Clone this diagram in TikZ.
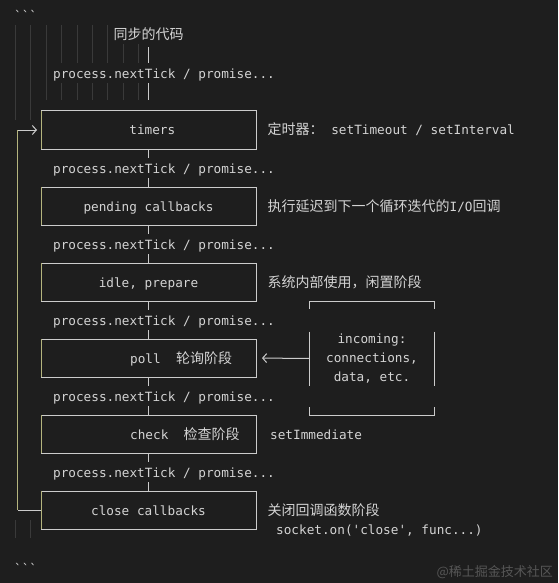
\documentclass[tikz,border=0pt]{standalone}
\usepackage{fontspec}
\setmonofont{DejaVu Sans Mono}
\newfontfamily\cjk{Noto Sans CJK SC}
\usetikzlibrary{positioning,arrows.meta}
\definecolor{bg}{HTML}{1E1E1E}
\definecolor{fg}{HTML}{D4D4D4}
\definecolor{lineclr}{HTML}{CCCCCC}
\definecolor{railclr}{HTML}{B4B47E}
\definecolor{guideclr}{HTML}{3A3A3A}
\definecolor{markclr}{HTML}{565656}
\newcommand{\zhtxt}[1]{{\fontsize{14}{19}\cjk #1}}

\begin{document}
\begin{tikzpicture}[
    x=1pt, y=-1pt,
    font=\ttfamily\fontsize{12.7}{19}\selectfont,
    txt/.style={inner sep=0pt, text height=12pt, text depth=2pt, text=fg},
    phase/.style={txt, draw=lineclr, line width=1pt, outer sep=0pt, minimum width=215pt, minimum height=38pt},
    ticknote/.style={txt, fill=bg, minimum height=20pt, xshift=15.5pt},
    note/.style={txt, anchor=west},
    conn/.style={draw=lineclr, line width=1pt},
    rail/.style={draw=railclr, line width=1pt},
    guide/.style={draw=guideclr, line width=0.8pt},
    barb/.style={-{Straight Barb[length=4pt, width=9pt]}}
]
\fill[bg] (0,0) rectangle (558,583);

% indent guides
\foreach \gx in {15,30} \draw[guide] (\gx,25) -- (\gx,120);
\foreach \gx in {46,61,77,92,107,123,138} \draw[guide] (\gx,25) -- (\gx,100);
\foreach \gx in {15,30} \draw[guide] (\gx,520) -- (\gx,538);

\node[note] (fence1) at (14,16) {```};
\node[note] (fence2) at (14,568) {```};

\node[txt, fill=bg, minimum height=19pt] (sync) at (148.5,35) {\zhtxt{同步的代码}};

\node[phase] (timers) at (148.5,130) {\ timers};
\node[phase, below=38pt of timers]  (pending) {pending callbacks};
\node[phase, below=38pt of pending] (idle)    {idle, prepare};
\node[phase, below=38pt of idle]    (poll)    {};
\node[phase, below=38pt of poll]    (check)   {};
\node[phase, below=38pt of check]   (closecb) {close callbacks};

\node[note, right=89pt of poll.west]  (polltxt)  {poll\ \ \zhtxt{轮询阶段}};
\node[note, right=89pt of check.west] (checktxt) {check\ \ \zhtxt{检查阶段}};

\draw[conn, shorten <=2.5pt, shorten >=11pt] (sync) -- node[ticknote, pos=0.43] (t0) {process.nextTick / promise...} (timers);
\foreach \a/\b in {timers/pending, pending/idle, idle/poll, poll/check, check/closecb}
    \draw[conn] (\a) -- node[ticknote] {process.nextTick / promise...} (\b);

\foreach \b in {timers,pending,idle,poll,check,closecb}
    \draw[rail] (\b.north west) -- (\b.south west);

\node[note, right=11.5pt of timers]  (tnote)  {\zhtxt{定时器：}\ setTimeout / setInterval};
\node[note, right=11.5pt of pending] (pnote)  {\zhtxt{执行延迟到下一个循环迭代的}I/O\zhtxt{回调}};
\node[note, right=11.5pt of idle]    (inote)  {\zhtxt{系统内部使用，闲置阶段}};
\node[note, right=14pt of check]     (cnote)  {setImmediate};
\node[note, right=11.5pt of closecb] (clnote) {\zhtxt{关闭回调函数阶段}};
\node[note] (socket) at ([xshift=8.5pt, yshift=-19pt]clnote.west) {socket.on('close', func...)};

% incoming box
\node[align=center, inner sep=0pt, text=fg, minimum width=124pt, minimum height=113pt] (inc) at (372,358.5)
    {incoming:\\connections,\\data, etc.};
\draw[conn] ([yshift=-7pt]inc.north west) -- (inc.north west) -- (inc.north east) -- ([yshift=-7pt]inc.north east);
\draw[conn] ([yshift=8pt]inc.south west) -- (inc.south west) -- (inc.south east) -- ([yshift=8pt]inc.south east);
\draw[conn] ([yshift=27pt]inc.west) -- ([yshift=-27pt]inc.west);
\draw[conn] ([yshift=27pt]inc.east) -- ([yshift=-27pt]inc.east);
\draw[conn, barb, shorten >=6pt] (inc.west) -- (poll.east);

% loop back
\coordinate (loopb) at (17.5,0 |- closecb.west);
\coordinate (loopt) at (17.5,0 |- timers.west);
\draw[conn] (closecb.west) -- (loopb);
\draw[rail] (loopb) -- (loopt);
\draw[conn, barb, shorten >=4pt] (loopt) -- (timers.west);

\node[inner sep=0pt, text=markclr, anchor=east] (wm) at (553,572) {\fontsize{13}{15}\cjk @稀土掘金技术社区};
\end{tikzpicture}
\end{document}
